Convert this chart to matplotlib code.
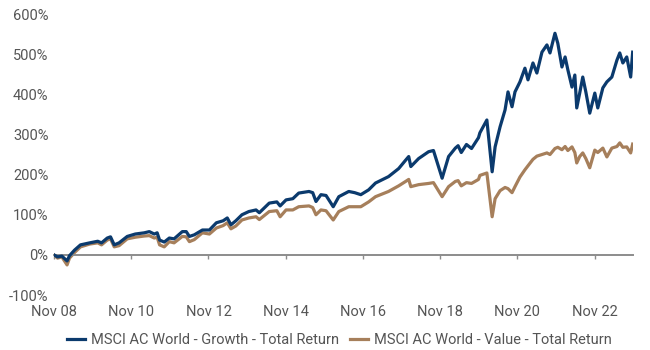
"""
MSCI AC World growth vs value, cumulative total return since Nov 2008
"""

import pandas as pd
import matplotlib.pyplot as plt
from matplotlib.ticker import FuncFormatter

plt.rcParams['font.family'] = ['Roboto', 'DejaVu Sans']

dates = ["2008-11-01", "2008-12-05", "2009-01-15", "2009-03-05", "2009-03-28",
         "2009-05-15", "2009-07-10", "2009-10-05", "2009-12-20", "2010-01-25",
         "2010-03-20", "2010-04-20", "2010-05-25", "2010-07-10", "2010-09-25",
         "2010-12-10", "2011-03-05", "2011-04-22", "2011-06-08", "2011-07-05",
         "2011-07-28", "2011-09-10", "2011-10-28", "2011-12-12", "2012-02-28",
         "2012-04-05", "2012-05-05", "2012-06-20", "2012-09-05", "2012-11-10",
         "2013-01-15", "2013-03-20", "2013-04-28", "2013-06-02", "2013-07-18",
         "2013-09-14", "2013-11-18", "2014-01-25", "2014-02-25", "2014-05-30",
         "2014-08-10", "2014-09-10", "2014-11-05", "2015-01-08", "2015-03-05",
         "2015-06-10", "2015-07-15", "2015-08-15", "2015-10-01", "2015-11-18",
         "2016-01-01", "2016-01-25", "2016-03-18", "2016-06-20", "2016-08-15",
         "2016-10-12", "2016-12-25", "2017-02-28", "2017-07-01", "2017-10-05",
         "2017-12-10", "2018-01-08", "2018-01-28", "2018-04-12", "2018-07-15",
         "2018-08-30", "2018-11-20", "2019-01-20", "2019-03-25", "2019-04-20",
         "2019-05-20", "2019-07-08", "2019-08-25", "2019-10-30", "2019-11-12",
         "2020-01-17", "2020-03-07", "2020-04-04", "2020-05-21", "2020-07-07",
         "2020-08-04", "2020-09-11", "2020-10-09", "2020-11-25", "2021-01-11",
         "2021-02-09", "2021-03-28", "2021-05-04", "2021-06-21", "2021-08-07",
         "2021-09-05", "2021-10-22", "2021-11-18", "2021-12-27", "2022-01-26",
         "2022-02-21", "2022-04-01", "2022-04-28", "2022-05-16", "2022-06-13",
         "2022-07-12", "2022-08-10", "2022-09-16", "2022-11-03", "2022-12-01",
         "2023-01-18", "2023-02-25", "2023-04-13", "2023-05-31", "2023-06-27",
         "2023-07-26", "2023-09-01", "2023-10-08", "2023-10-27"]

growth = [0, -5, -3, -15, -2,
          12, 25, 30, 34, 30,
          42, 45, 25, 30, 46,
          52, 55, 58, 52, 55,
          37, 32, 42, 40, 58,
          58, 46, 50, 62, 62,
          80, 85, 92, 75, 85,
          100, 108, 112, 105, 129,
          132, 122, 137, 140, 154,
          158, 155, 133, 150, 148,
          130, 120, 145, 158, 155,
          150, 162, 179, 195, 215,
          236, 245, 220, 240, 257,
          260, 191, 245, 266, 272,
          255, 275, 265, 292, 304,
          336, 207, 269, 319, 361,
          406, 369, 406, 431, 465,
          436, 478, 453, 505, 523,
          503, 552, 527, 468, 493,
          461, 418, 448, 366, 403,
          443, 406, 353, 403, 366,
          416, 431, 443, 485, 503,
          478, 493, 443, 505]

value = [0, -8, -5, -25, -8,
         6, 20, 27, 30, 25,
         37, 40, 20, 23, 40,
         44, 47, 48, 42, 44,
         25, 20, 33, 30, 46,
         45, 33, 38, 55, 52,
         67, 73, 80, 65, 72,
         87, 92, 95, 88, 108,
         110, 95, 112, 112, 120,
         122, 118, 100, 112, 110,
         95, 87, 108, 120, 120,
         120, 132, 145, 158, 172,
         183, 188, 170, 175, 178,
         180, 145, 170, 183, 185,
         172, 180, 178, 188, 198,
         204, 95, 140, 160, 168,
         165, 155, 170, 194, 212,
         222, 238, 246, 250, 254,
         250, 265, 268, 262, 270,
         260, 269, 255, 229, 245,
         254, 240, 217, 261, 255,
         266, 244, 266, 270, 279,
         268, 269, 254, 276]

tick_dates = ["2008-11-01", "2010-11-01", "2012-11-01", "2014-11-01",
              "2016-11-01", "2018-11-01", "2020-11-01", "2022-11-01"]
tick_labels = ["Nov 08", "Nov 10", "Nov 12", "Nov 14",
               "Nov 16", "Nov 18", "Nov 20", "Nov 22"]

NAVY = "#0b3a6d"
TAN = "#a67f5b"
GREY = "#555555"


def draw():
    dt = pd.DataFrame({"growth": growth, "value": value}, index=pd.to_datetime(dates))

    fig = plt.figure(figsize=(6.5, 3.5), dpi=100)
    ax = fig.add_axes([0.083, 0.157, 0.891, 0.803])

    ax.plot(dt.index, dt["growth"], color=NAVY, lw=2.3, solid_joinstyle="round",
            label="MSCI AC World - Growth - Total Return", zorder=3)
    ax.plot(dt.index, dt["value"], color=TAN, lw=2.3, solid_joinstyle="round",
            label="MSCI AC World - Value - Total Return", zorder=2)

    ax.set_ylim(-100, 600)
    ax.set_xlim(pd.Timestamp("2008-11-01"), pd.Timestamp("2023-10-31"))
    ax.set_yticks(range(-100, 700, 100))
    ax.yaxis.set_major_formatter(FuncFormatter(lambda v, p: f"{v:.0f}%"))

    # x axis sits on the 0% line, its labels stay at the bottom
    for s in ["top", "right", "left"]:
        ax.spines[s].set_visible(False)
    ax.spines["bottom"].set_position(("data", 0))
    ax.spines["bottom"].set_color("#8c8c8c")
    ax.spines["bottom"].set_linewidth(1.4)
    ax.set_xticks(pd.to_datetime(tick_dates))
    ax.set_xticklabels(tick_labels)
    ax.tick_params(axis="x", length=3, width=1, color="#8c8c8c", pad=33,
                   labelsize=10.5, labelcolor=GREY)
    ax.tick_params(axis="y", length=0, pad=4, labelsize=10.5, labelcolor=GREY)

    ax.legend(loc="center", bbox_to_anchor=(0.493, -0.16), ncol=2, frameon=False,
              fontsize=10.5, labelcolor=GREY, handlelength=1.2, handletextpad=0.4,
              columnspacing=0.8)

    fig.savefig("out.png")


if __name__ == '__main__':
    draw()
